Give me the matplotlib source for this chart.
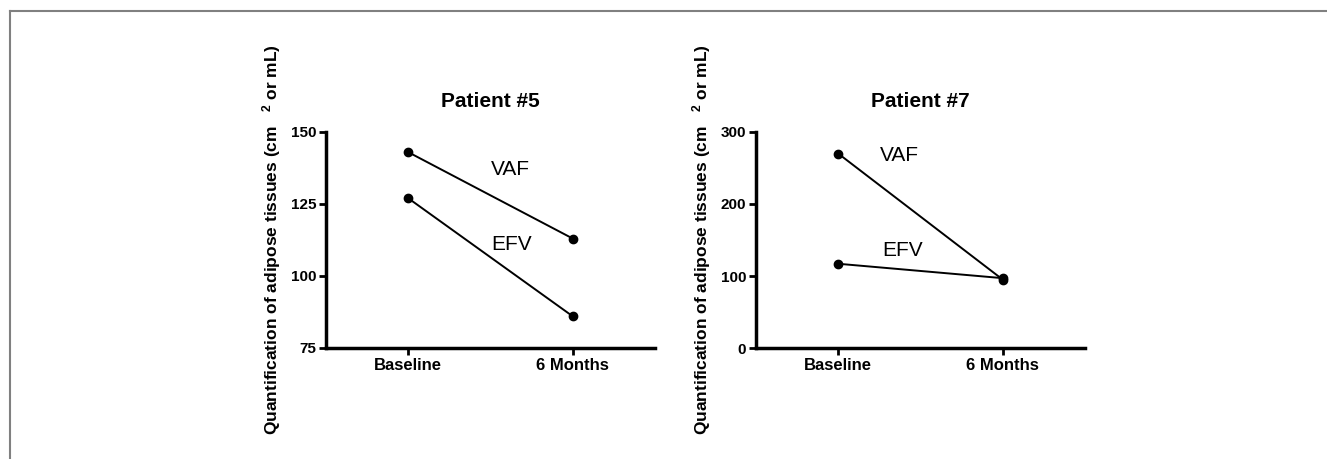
import matplotlib
matplotlib.use("Agg")
import matplotlib.pyplot as plt
from matplotlib.lines import Line2D

plt.rcParams['font.family'] = ['Liberation Sans', 'DejaVu Sans']
plt.rcParams['mathtext.fontset'] = 'custom'
plt.rcParams['mathtext.rm'] = 'Liberation Sans'
plt.rcParams['mathtext.bf'] = 'Liberation Sans:bold'

# data
timepoints = ['Baseline', '6 Months']
p5_vaf = [143, 113]
p5_efv = [127, 86]
p7_vaf = [270, 95]
p7_efv = [117, 97]

p5_ticks = [75, 100, 125, 150]
p7_ticks = [0, 100, 200, 300]

ylabel = r'Quantification of adipose tissues (cm   $\mathbf{^{2}}$ or mL)'

fig = plt.figure(figsize=(13.27, 4.59), dpi=100)

# thin grey frame on top and left edge
fig.add_artist(Line2D([10 / 1327, 1.0], [1 - 10.5 / 459] * 2, transform=fig.transFigure,
                      color='#808080', lw=1.5))
fig.add_artist(Line2D([10 / 1327] * 2, [0.0, 1 - 10.5 / 459], transform=fig.transFigure,
                      color='#808080', lw=1.5))

ax1 = fig.add_axes([326 / 1327, 1 - 348 / 459, 329 / 1327, 216 / 459])
ax2 = fig.add_axes([756 / 1327, 1 - 348 / 459, 329 / 1327, 216 / 459])


def draw_panel(ax, vaf, efv, ticks, title, vaf_pos, efv_pos):
    x = list(range(len(timepoints)))
    ax.plot(x, vaf, color='black', lw=1.4, marker='o', ms=6, clip_on=False)
    ax.plot(x, efv, color='black', lw=1.4, marker='o', ms=6, clip_on=False)
    ax.text(vaf_pos[0], vaf_pos[1], 'VAF', fontsize=15, ha='center', va='center')
    ax.text(efv_pos[0], efv_pos[1], 'EFV', fontsize=15, ha='center', va='center')

    ax.set_xlim(-0.5, 1.5)
    ax.set_ylim(ticks[0], ticks[-1])
    ax.set_xticks(x)
    ax.set_xticklabels(timepoints, fontsize=12, fontweight='bold')
    ax.set_yticks(ticks)
    ax.set_yticklabels([str(t) for t in ticks], fontsize=11, fontweight='bold')

    for s in ['top', 'right']:
        ax.spines[s].set_visible(False)
    for s in ['left', 'bottom']:
        ax.spines[s].set_linewidth(2.5)
    ax.tick_params(axis='both', direction='out', length=5, width=2, pad=2)

    ax.set_title(title, fontsize=15, fontweight='bold', pad=18)
    ax.set_ylabel(ylabel, fontsize=12.5, fontweight='bold')
    ax.yaxis.set_label_coords(-0.166, 0.5)
    ax.yaxis.label.set_verticalalignment('center')


draw_panel(ax1, p5_vaf, p5_efv, p5_ticks, 'Patient #5', (0.62, 137), (0.63, 111))
draw_panel(ax2, p7_vaf, p7_efv, p7_ticks, 'Patient #7', (0.37, 267), (0.39, 136))

fig.savefig('out.png', dpi=100)
